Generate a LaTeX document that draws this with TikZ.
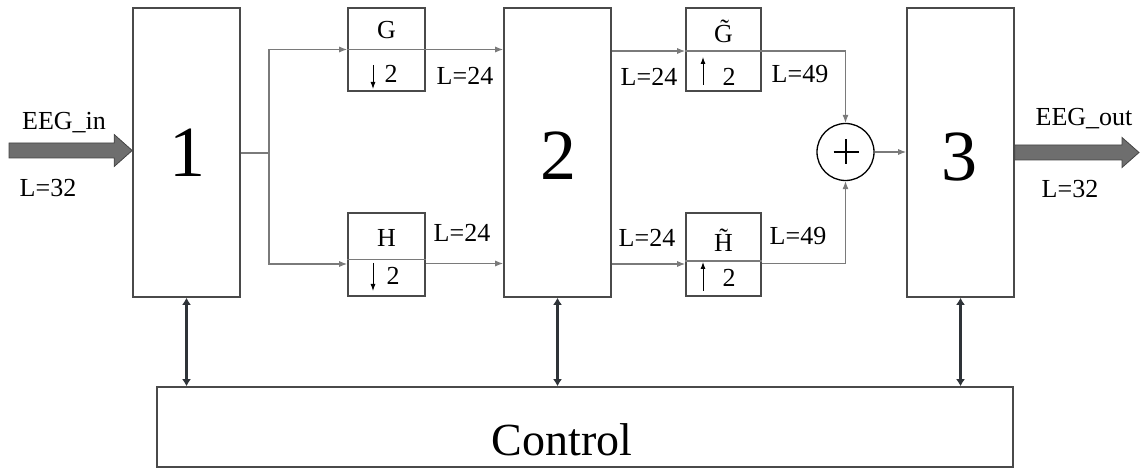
\documentclass[tikz,border=0pt]{standalone}
\usepackage{fontspec}
\setmainfont{Liberation Serif}
\usetikzlibrary{arrows.meta,calc}
\definecolor{boxline}{HTML}{4A4A4A}
\definecolor{wirec}{HTML}{7A7A7A}
\definecolor{fatfill}{HTML}{6E6E6E}
\definecolor{fatedge}{HTML}{454545}
\definecolor{ctrlarrow}{HTML}{2E3338}
\newcommand{\bigfnt}{\fontsize{72}{72}\selectfont}
\newcommand{\labfnt}{\fontsize{26}{26}\selectfont}
\begin{document}
\begin{tikzpicture}[x=1pt,y=-1pt,
  blk/.style={draw=boxline, line width=1.6pt, minimum width=107pt, minimum height=289pt, inner sep=0pt},
  filt/.style={draw=boxline, line width=1.6pt, minimum width=77pt, minimum height=83pt, inner sep=0pt},
  divider/.style={draw=wirec, line width=1.1pt},
  wire/.style={draw=wirec, line width=1.1pt},
  sig/.style={wire, -{Latex[length=8pt,width=6pt]}},
  inarr/.style={draw=black, line width=0.9pt, -{Latex[length=7pt,width=5pt]}},
  lab/.style={font=\labfnt, inner sep=0pt, anchor=base},
  big/.style={font=\bigfnt, inner sep=0pt, anchor=base},
  ctl/.style={draw=ctrlarrow, line width=3.5pt, {Latex[length=7pt,width=9pt]}-{Latex[length=7pt,width=9pt]}},
  fat/.style={fill=fatfill, draw=fatedge, line width=0.8pt, line join=miter},
]
\useasboundingbox (0,0) rectangle (1141,470);

% main blocks
\node[blk] (b1) at (186.5,152.5) {};
\node[blk] (b2) at (557.5,152.5) {};
\node[blk] (b3) at (960.5,152.5) {};
\node[big] (n1) at (187,177) {1};
\node[big] (n2) at (558,180) {2};
\node[big] (n3) at (959,181) {3};

% filter boxes
\node[filt] (G) at (386.5,49.5) {};
\node[filt] (H) at (386.5,254.5) {};
\node[filt, minimum width=75pt] (Gt) at (723.5,49.5) {};
\node[filt, minimum width=75pt] (Ht) at (723.5,254.5) {};

% dividers
\draw[divider] (G.west) -- (G.east);
\draw[divider] ([yshift=-5pt]H.west) -- ([yshift=-5pt]H.east);
\draw[divider] ([yshift=-1.5pt]Gt.west) -- ([yshift=-1.5pt]Gt.east);
\draw[divider] ([yshift=-6.5pt]Ht.west) -- ([yshift=-6.5pt]Ht.east);

% filter labels
\node[lab] (Glab) at (386.5,39) {G};
\node[lab] (G2) at (391,83) {2};
\draw[inarr] (373,65) -- (373,89);
\node[lab] (Hlab) at (386.5,247) {H};
\node[lab] (H2) at (393,285) {2};
\draw[inarr] (373,263) -- (373,291);
\node[lab] (Gtlab) at (723.5,43) {\~{G}};
\node[lab] (Gt2) at (729,86) {2};
\draw[inarr] (703,85) -- (703,57);
\node[lab] (Htlab) at (723.5,252) {\~{H}};
\node[lab] (Ht2) at (729,287) {2};
\draw[inarr] (703,291) -- (703,262);

% adder
\node[circle, draw=black, line width=1.3pt, minimum size=57pt, inner sep=0pt] (plus) at (845.5,152) {};
\draw[line width=2.6pt] ($(plus.center)+(-12,0)$) -- ($(plus.center)+(13,0)$);
\draw[line width=2.6pt] ($(plus.center)+(0.5,-12.5)$) -- ($(plus.center)+(0.5,12.5)$);

% control
\node[draw=boxline, line width=1.6pt, minimum width=856pt, minimum height=80pt, inner sep=0pt] (ctrl) at (585,427) {};
\node[font=\fontsize{46}{46}\selectfont, inner sep=0pt, anchor=base] (ctrltxt) at (562,455) {Control};

% wires
\coordinate (split) at (269,153);
\coordinate (Hin) at ([yshift=-9.5pt]H.west);
\coordinate (Hout) at ([yshift=-9pt]H.east);
\coordinate (Gtin) at ([yshift=-1.5pt]Gt.west);
\coordinate (Gtout) at ([yshift=-1.5pt]Gt.east);
\coordinate (Htin) at ([yshift=-9.5pt]Ht.west);
\coordinate (Htout) at ([yshift=-9pt]Ht.east);
\draw[wire] (b1.east |- split) -- (split);
\draw[sig] (split) |- (G.west);
\draw[sig] (split) |- (Hin);
\draw[sig] (G.east) -- (G.east -| b2.west);
\draw[sig] (Hout) -- (Hout -| b2.west);
\draw[sig] (b2.east |- Gtin) -- (Gtin);
\draw[sig] (b2.east |- Htin) -- (Htin);
\draw[sig] (Gtout) -| (plus.north);
\draw[sig] (Htout) -| (plus.south);
\draw[sig] (plus.east) -- (plus.east -| b3.west);

% interval labels
\node[lab] (l1) at (465,85) {L=24};
\node[lab] (l2) at (462,242) {L=24};
\node[lab] (l3) at (649,86) {L=24};
\node[lab] (l4) at (647,247) {L=24};
\node[lab] (l5) at (800,83) {L=49};
\node[lab] (l6) at (798,245) {L=49};

% control arrows
\draw[ctl] (b1.south) -- (b1.south |- ctrl.north);
\draw[ctl] (b2.south) -- (b2.south |- ctrl.north);
\draw[ctl] (b3.south) -- (b3.south |- ctrl.north);

% input / output fat arrows
\coordinate (inA) at (9,150.5);
\coordinate (inT) at (b1.west |- inA);
\filldraw[fat] ($(inA)+(0,-7.5)$) -- ($(inT)+(-18,-7.5)$) -- ($(inT)+(-18,-16)$) -- (inT)
  -- ($(inT)+(-18,16)$) -- ($(inT)+(-18,7.5)$) -- ($(inA)+(0,7.5)$) -- cycle;
\coordinate (outA) at (1139,152.5);
\coordinate (outS) at (b3.east |- outA);
\filldraw[fat] ($(outS)+(0,-7.5)$) -- ($(outA)+(-17,-7.5)$) -- ($(outA)+(-17,-15)$) -- (outA)
  -- ($(outA)+(-17,15)$) -- ($(outA)+(-17,7.5)$) -- ($(outS)+(0,7.5)$) -- cycle;

\node[lab] (eegin) at (64,130) {EEG\_in};
\node[lab] (lin) at (48,197) {L=32};
\node[lab] (eegout) at (1084,126) {EEG\_out};
\node[lab] (lout) at (1070,198) {L=32};
\end{tikzpicture}
\end{document}
